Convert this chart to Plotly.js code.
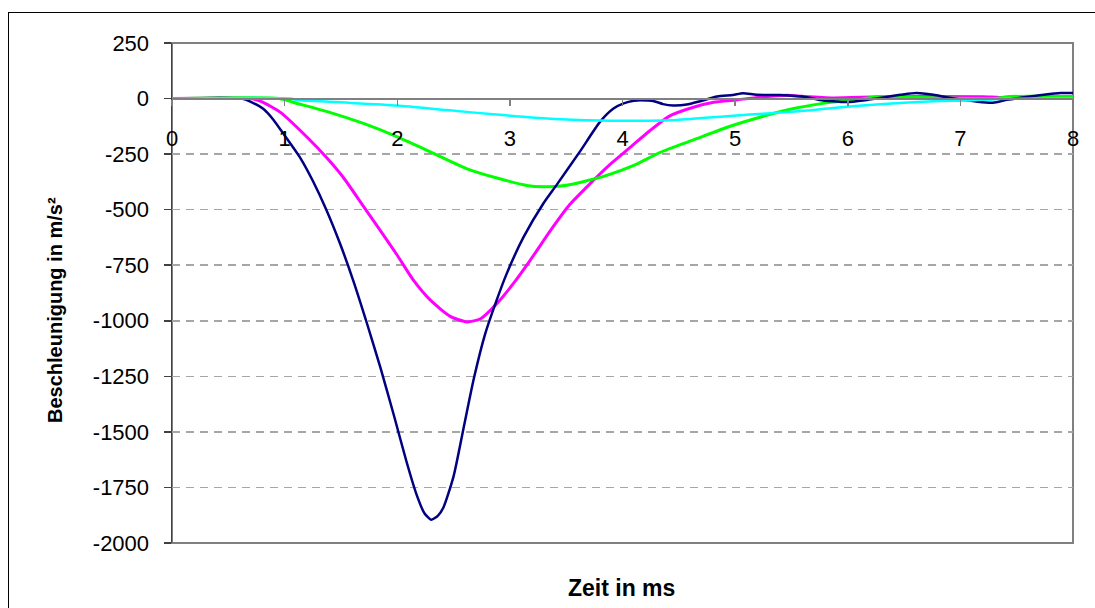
<!DOCTYPE html>
<html>
<head>
<meta charset="utf-8">
<script src="https://cdn.plot.ly/plotly-3.0.1.min.js"></script>
<style>
  html, body { margin: 0; padding: 0; background: #fff; }
  #wrap { position: relative; width: 1095px; height: 608px; overflow: hidden; }
  #chart { position: absolute; left: 0; top: 0; width: 1095px; height: 608px; }
  #frame { position: absolute; left: 8px; top: 12px; width: 1200px; height: 700px;
           border-left: 1.5px solid #000; border-top: 1.5px solid #000; pointer-events: none; }
</style>
</head>
<body>
<div id="wrap"><div id="chart"></div><div id="frame"></div></div>
<script>
// time in ms
const navyT = [0, 0.62, 0.7, 0.81, 0.9, 0.99, 1.14, 1.25, 1.37, 1.49, 1.61, 1.73, 1.85, 1.97, 2.08, 2.17, 2.24, 2.30, 2.36, 2.41, 2.50, 2.59, 2.68, 2.78, 2.87, 2.97, 3.12, 3.30, 3.42, 3.62, 3.80, 3.92, 4.01, 4.10, 4.16, 4.28, 4.36, 4.45, 4.57, 4.69, 4.84, 4.98, 5.07, 5.19, 5.40, 5.64, 5.75, 5.99, 6.17, 6.47, 6.61, 6.76, 6.94, 7.29, 7.41, 7.74, 7.89, 8.0];
const navyV = [0, 0, -15, -46, -95, -159, -268, -370, -500, -650, -820, -1010, -1210, -1425, -1630, -1780, -1865, -1895, -1878, -1840, -1700, -1480, -1260, -1060, -925, -790, -625, -470, -385, -240, -105, -45, -22, -10, -8, -12, -25, -31, -27, -12, 9, 16, 24, 17, 16, 6, -6, -16, -6, 17, 25, 17, 0, -19, -6, 17, 25, 25];

const magT = [0, 0.7, 0.8, 0.96, 1.20, 1.37, 1.52, 1.70, 1.85, 2.00, 2.14, 2.29, 2.47, 2.62, 2.74, 2.88, 3.03, 3.18, 3.36, 3.53, 3.71, 3.89, 4.07, 4.24, 4.42, 4.63, 4.81, 5.01, 5.22, 5.46, 5.6, 5.87, 6.3, 7.2, 7.35, 8.0];
const magV = [0, 0, -15, -61, -174, -264, -354, -485, -594, -705, -815, -905, -980, -1005, -991, -925, -833, -728, -594, -478, -384, -296, -219, -146, -78, -39, -17, -6, 6, 15, 10, 3, 8, 8, 5, 5];

const greenT = [0, 0.95, 1.11, 1.40, 1.70, 2.00, 2.26, 2.62, 2.91, 3.15, 3.30, 3.45, 3.65, 3.86, 4.10, 4.33, 4.63, 4.93, 5.22, 5.52, 5.75, 5.87, 6.1, 6.26, 6.76, 7.3, 7.44, 8.0];
const greenV = [0, 0, -22, -62, -112, -172, -232, -316, -361, -391, -397, -394, -374, -346, -301, -243, -186, -129, -84, -45, -24, -16, -5, 8, 4, 0, 9, 9];

const cyanT = [0, 1.05, 1.11, 1.46, 2.0, 2.44, 2.88, 3.36, 3.80, 4.04, 4.48, 4.90, 5.13, 5.37, 5.64, 5.87, 6.32, 6.76, 7.06, 7.41, 8.0];
const cyanV = [0, 0, -6, -16, -31, -52, -72, -91, -99, -100, -96, -81, -72, -64, -54, -42, -24, -12, -9, -1, 0];

const xTicks = [0, 1, 2, 3, 4, 5, 6, 7, 8];
const yTicks = [-2000, -1750, -1500, -1250, -1000, -750, -500, -250, 0, 250];

const xTitle = 'Zeit in ms';
const yTitle = 'Beschleunigung in m/s²';

const FONT = 'Liberation Sans, Arial, sans-serif';

const mk = (x, y, color, w) => ({
  x: x, y: y, type: 'scatter', mode: 'lines',
  line: { color: color, width: w, shape: 'spline', smoothing: 0.6 },
  hoverinfo: 'skip', showlegend: false
});

const data = [
  mk(magT, magV, '#FF00FF', 3),
  mk(greenT, greenV, '#00FF00', 3),
  mk(navyT, navyV, '#000080', 2.5),
  mk(cyanT, cyanV, '#00FFFF', 2.5)
];

const layout = {
  width: 1095, height: 608,
  margin: { l: 172, r: 22, t: 43, b: 65, pad: 0 },
  paper_bgcolor: '#ffffff', plot_bgcolor: '#ffffff',
  font: { family: FONT, color: '#000' },
  showlegend: false,
  xaxis: {
    anchor: 'free', position: 2000 / 2250,
    range: [0, 8], tickmode: 'array', tickvals: xTicks, ticktext: xTicks.map(String),
    ticks: 'outside', ticklen: 6, tickwidth: 1.5, tickcolor: '#808080',
    showline: true, linecolor: '#808080', linewidth: 2,
    showgrid: false, zeroline: false, automargin: false, fixedrange: true,
    tickfont: { size: 22, family: FONT, color: '#000' }, ticklabelstandoff: 14
  },
  yaxis: {
    range: [-2000, 250], tickmode: 'array', tickvals: yTicks, ticktext: yTicks.map(String),
    ticks: 'outside', ticklen: 7, tickwidth: 1.5, tickcolor: '#404040',
    showline: true, linecolor: '#404040', linewidth: 1.5,
    showgrid: true, gridcolor: '#A6A6A6', gridwidth: 1.5, griddash: '8px,6px',
    zeroline: false, automargin: false, fixedrange: true,
    tickfont: { size: 22, family: FONT, color: '#000' }, ticklabelstandoff: 10
  },
  annotations: [
    { text: '<b>' + xTitle + '</b>', xref: 'paper', yref: 'paper',
      x: (621 - 172) / 901, y: (543 - 588) / 500, xanchor: 'center', yanchor: 'middle',
      showarrow: false, font: { size: 23, family: FONT, color: '#000' } },
    { text: '<b>' + yTitle + '</b>', xref: 'paper', yref: 'paper', textangle: -90,
      x: (55 - 172) / 901, y: (543 - 310) / 500, xanchor: 'center', yanchor: 'middle',
      showarrow: false, font: { size: 20, family: FONT, color: '#000' } }
  ],
  shapes: [{
    type: 'rect', xref: 'paper', yref: 'paper', x0: 0, x1: 1, y0: 0, y1: 1,
    line: { color: '#808080', width: 2 }, layer: 'below'
  }]
};

Plotly.newPlot('chart', data, layout, { staticPlot: true, displayModeBar: false });
</script>
</body>
</html>
